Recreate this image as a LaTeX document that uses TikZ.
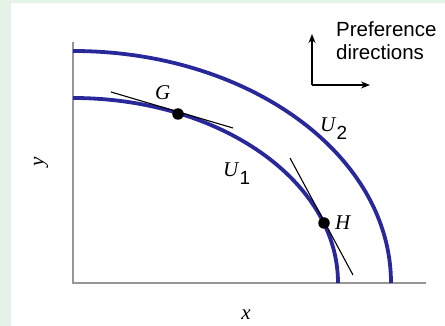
\documentclass[tikz,border=0pt]{standalone}
\usepackage{fontspec}
\setmainfont{Liberation Serif}
\setsansfont{Liberation Sans}
\usetikzlibrary{arrows.meta}
\definecolor{bggreen}{RGB}{228,242,232}
\definecolor{curveblue}{RGB}{40,40,155}
\definecolor{axisgray}{RGB}{150,150,150}
\tikzset{
  curve/.style={draw=curveblue, line width=3.8pt},
  axisline/.style={draw=axisgray, line width=2.6pt},
  tangent/.style={draw=black, line width=1.1pt},
  dotnode/.style={circle, fill=black, inner sep=0pt, minimum size=11.5pt},
  lbl/.style={inner sep=0pt, font=\fontsize{21}{25}\selectfont\itshape},
  sublbl/.style={inner sep=0pt, font=\fontsize{21}{25}\selectfont},
  preftext/.style={inner sep=0pt, anchor=base west, font=\sffamily\fontsize{20.5}{24}\selectfont},
  prefarrow/.style={draw=black, line width=1.1pt, -{Stealth[length=9pt,width=7pt]}}
}
\newcommand{\subsf}[1]{\raisebox{-7.5pt}{\sffamily\fontsize{19}{19}\selectfont #1}}
\begin{document}
\begin{tikzpicture}[x=1pt,y=-1pt]
\useasboundingbox (0,0) rectangle (445,326);
\fill[bggreen] (0,0) rectangle (445,326);
\fill[white] (11,3) rectangle (445,326);
% axes
\coordinate (ytop) at (73,42);
\coordinate (orig) at (73,283);
\coordinate (xend) at (426,283);
\draw[axisline] (ytop) -- (orig) -- (xend);
% curves
\coordinate (u2start) at (73,51);
\coordinate (u1start) at (73,98);
\draw[curve] (u2start) arc[start angle=-90, end angle=0, x radius=318, y radius=232];
\draw[curve] (u1start) arc[start angle=-90, end angle=0, x radius=265, y radius=185];
% tangents
\coordinate (ga) at (111,92);
\coordinate (gb) at (233,128);
\coordinate (ha) at (290,158);
\coordinate (hb) at (353,275);
\draw[tangent] (ga) -- (gb);
\draw[tangent] (ha) -- (hb);
% points
\node[dotnode] (G) at (178,114) {};
\node[dotnode] (H) at (324,223) {};
% labels
\node[lbl, anchor=base west] (Glbl) at (155,100) {G};
\node[lbl, anchor=base west] (Hlbl) at (335,230) {H};
\node[sublbl, anchor=base west] (U1lbl) at (223,177) {\textit{U}\subsf{1}};
\node[sublbl, anchor=base west] (U2lbl) at (320,132) {\textit{U}\subsf{2}};
\node[lbl] (xlbl) at (246,315) {x};
\node[lbl, rotate=90] (ylbl) at (41,162) {y};
% preference directions
\coordinate (pc) at (312,85);
\coordinate (pup) at (312,34);
\coordinate (pright) at (370,85);
\draw[prefarrow] (pc) -- (pup);
\draw[prefarrow] (pc) -- (pright);
\node[preftext] (pref1) at (336,37) {Preference};
\node[preftext] (pref2) at (336,60) {directions};
\end{tikzpicture}
\end{document}
